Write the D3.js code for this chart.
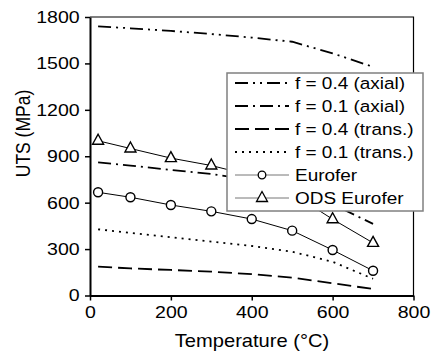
<!DOCTYPE html>
<html lang="en">
<head>
  <meta charset="UTF-8" />
  <title>UTS vs temperature</title>
  <script src="https://d3js.org/d3.v7.min.js" charset="utf-8"></script>
  <style>
    body { margin: 0; background: #fff; }
    text { font-family: "Liberation Sans", Arial, sans-serif; fill: #000; }
  </style>
</head>
<body>
<script type="text/javascript">

const WIDTH = 436;
const HEIGHT = 352;
const STRETCH = 1.15; // glyphs in the original are a bit wide

// data
const temps = [20, 100, 200, 300, 400, 500, 600, 700];
const axial04 = [1740, 1727, 1710, 1690, 1667, 1640, 1565, 1478];
const axial01 = [860, 840, 812, 785, 745, 680, 590, 463];
const trans04 = [186, 175, 165, 154, 138, 115, 79, 42];
const trans01 = [428, 405, 377, 348, 320, 283, 218, 108];
const eurofer = [667, 635, 585, 544, 494, 419, 294, 160];
const odsEurofer = [1000, 950, 888, 840, 775, 660, 493, 340];

const xTicks = [0, 200, 400, 600, 800];
const yTicks = [0, 300, 600, 900, 1200, 1500, 1800];
const legendLabels = ["f = 0.4 (axial)", "f = 0.1 (axial)", "f = 0.4 (trans.)",
                      "f = 0.1 (trans.)", "Eurofer", "ODS Eurofer"];

const series = [
    {values: axial04, dash: "13,5,2,5,2,5", width: 1.8, marker: null},
    {values: axial01, dash: "13,5,2,5", width: 1.8, marker: null},
    {values: trans04, dash: "14,6", width: 1.8, marker: null},
    {values: trans01, dash: "2,5", width: 1.8, marker: null},
    {values: eurofer, dash: null, width: 1, marker: "circle"},
    {values: odsEurofer, dash: null, width: 1, marker: "triangle"}
];
series.forEach((s, i) => s.label = legendLabels[i]);

var svg = d3.select("body")
    .append("svg")
        .attr("width", WIDTH)
        .attr("height", HEIGHT);

const x = d3.scaleLinear().domain([0, 800]).range([90, 413.5]);
const y = d3.scaleLinear().domain([0, 1800]).range([295.5, 17]);

// frame on top / right
svg.append("path")
    .attr("d", `M${x(0)},${y(1800)}H${x(800)}V${y(0)}`)
    .attr("fill", "none")
    .attr("stroke", "#000")
    .attr("stroke-width", 1.2);

// y axis
svg.append("g")
    .attr("transform", `translate(${x(0)},0)`)
    .call(d3.axisLeft(y).tickValues(yTicks).tickSize(5).tickSizeOuter(0)
        .tickPadding(4).tickFormat(d3.format("d")))
    .call(g => g.select(".domain").attr("stroke-width", 2))
    .call(g => g.selectAll(".tick line").attr("stroke-width", 1.5))
    .call(g => g.selectAll(".tick text")
        .attr("font-size", 17)
        .attr("font-family", "Liberation Sans, Arial, sans-serif")
        .attr("transform", `scale(${STRETCH},1)`));

// x axis
svg.append("g")
    .attr("transform", `translate(0,${y(0)})`)
    .call(d3.axisBottom(x).tickValues(xTicks).tickSize(5).tickSizeOuter(0)
        .tickPadding(5).tickFormat(d3.format("d")))
    .call(g => g.select(".domain").attr("stroke-width", 2))
    .call(g => g.selectAll(".tick line").attr("stroke-width", 1.5))
    .call(g => g.selectAll(".tick text")
        .attr("font-size", 17)
        .attr("font-family", "Liberation Sans, Arial, sans-serif")
        .attr("transform", `scale(${STRETCH},1)`));

// axis titles
svg.append("text")
    .attr("transform", `translate(252,346.5) scale(${STRETCH},1)`)
    .attr("text-anchor", "middle")
    .attr("font-size", 17.5)
    .text("Temperature (°C)");
svg.append("text")
    .attr("transform", `translate(30,133.5) scale(${STRETCH},1) rotate(-90)`)
    .attr("text-anchor", "middle")
    .attr("font-size", 17.5)
    .text("UTS (MPa)");

// lines
var line = d3.line()
    .x((d, i) => x(temps[i]))
    .y(d => y(d));

const triangle = "M0,-6.5L5.5,3.5L-5.5,3.5Z";

series.forEach(s => {
    svg.append("path")
        .datum(s.values)
        .attr("fill", "none")
        .attr("stroke", "#000")
        .attr("stroke-width", s.width)
        .attr("stroke-dasharray", s.dash)
        .attr("d", line);
    if (s.marker == "circle") {
        svg.selectAll(null)
            .data(s.values)
            .enter().append("circle")
                .attr("cx", (d, i) => x(temps[i]))
                .attr("cy", d => y(d))
                .attr("r", 4.5)
                .attr("fill", "#fff")
                .attr("stroke", "#000")
                .attr("stroke-width", 1.4);
    } else if (s.marker == "triangle") {
        svg.selectAll(null)
            .data(s.values)
            .enter().append("path")
                .attr("d", triangle)
                .attr("transform", (d, i) => `translate(${x(temps[i])},${y(d)})`)
                .attr("fill", "#fff")
                .attr("stroke", "#000")
                .attr("stroke-width", 1.4);
    }
});

// legend
var legend = svg.append("g");
legend.append("rect")
    .attr("x", 227)
    .attr("y", 73)
    .attr("width", 196)
    .attr("height", 138)
    .attr("fill", "#fff")
    .attr("stroke", "#808080")
    .attr("stroke-width", 1.5);

series.forEach((s, i) => {
    const base = 89 + 23 * i;
    const ly = base - 6;
    legend.append("line")
        .attr("x1", 235).attr("x2", 289)
        .attr("y1", ly).attr("y2", ly)
        .attr("stroke", s.marker ? "#777" : "#000")
        .attr("stroke-width", s.width)
        .attr("stroke-dasharray", s.dash);
    if (s.marker == "circle") {
        legend.append("circle")
            .attr("cx", 262).attr("cy", ly).attr("r", 3.8)
            .attr("fill", "#fff").attr("stroke", "#000").attr("stroke-width", 1.3);
    } else if (s.marker == "triangle") {
        legend.append("path")
            .attr("d", triangle)
            .attr("transform", `translate(262,${ly})`)
            .attr("fill", "#fff").attr("stroke", "#000").attr("stroke-width", 1.3);
    }
    legend.append("text")
        .attr("transform", `translate(295,${base}) scale(${STRETCH},1)`)
        .attr("font-size", 16.5)
        .text(s.label);
});

</script>
</body>
</html>
